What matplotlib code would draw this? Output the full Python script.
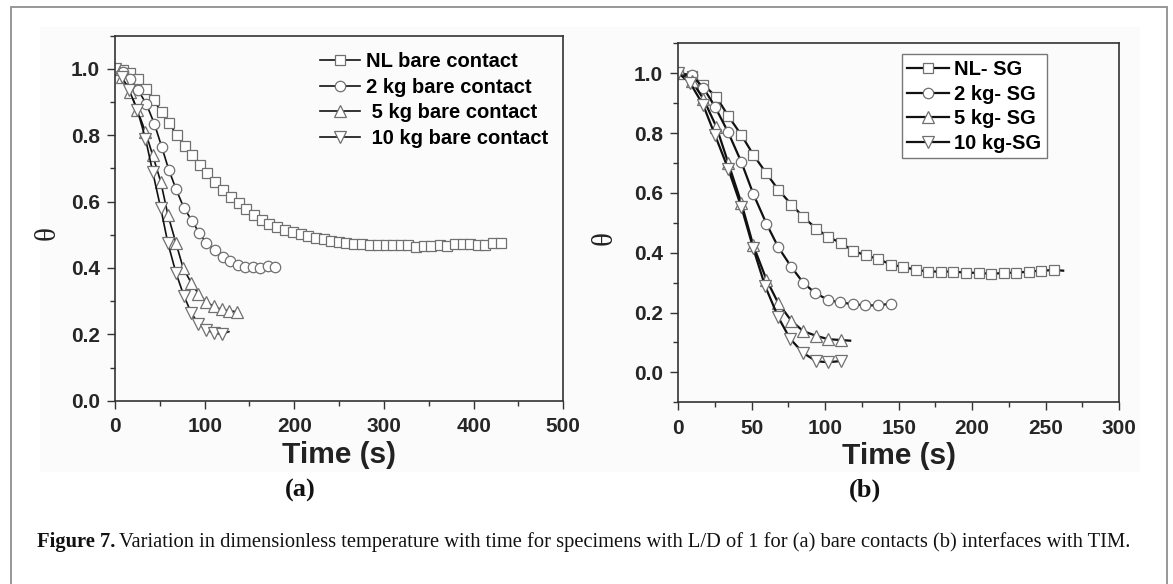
import matplotlib
matplotlib.use("Agg")
import matplotlib.pyplot as plt
from matplotlib.patches import Rectangle
from matplotlib.ticker import MultipleLocator

plt.rcParams['font.family'] = ['Liberation Sans', 'DejaVu Sans']

# ---- (a) bare contacts ----
t_nl_a = [0, 9, 17, 26, 35, 43, 52, 60, 69, 78, 86, 95, 103, 112, 121, 129, 138, 146, 155, 164,
          172, 181, 190, 198, 207, 215, 224, 233, 241, 250, 258, 267, 276, 284, 293, 302, 310, 319,
          327, 336, 345, 353, 362, 370, 379, 388, 396, 405, 413, 422, 430]
th_nl_a = [1.0, 0.997, 0.988, 0.968, 0.94, 0.905, 0.87, 0.838, 0.80, 0.768, 0.74, 0.71, 0.685, 0.66,
           0.635, 0.615, 0.595, 0.578, 0.56, 0.546, 0.533, 0.523, 0.515, 0.508, 0.502, 0.496, 0.49,
           0.486, 0.482, 0.478, 0.475, 0.473, 0.471, 0.47, 0.468, 0.468, 0.469, 0.469, 0.47, 0.462,
           0.466, 0.467, 0.468, 0.467, 0.472, 0.472, 0.471, 0.47, 0.47, 0.474, 0.475]
t_2_a = [0, 9, 17, 26, 35, 44, 52, 60, 68, 77, 86, 94, 102, 111, 120, 128, 137, 145, 154, 162, 171, 179]
th_2_a = [1.0, 0.99, 0.97, 0.935, 0.894, 0.834, 0.766, 0.696, 0.638, 0.58, 0.542, 0.505, 0.475,
          0.455, 0.433, 0.42, 0.41, 0.403, 0.403, 0.40, 0.405, 0.402]
t_5_a = [0, 8, 17, 25, 34, 42, 51, 59, 68, 76, 85, 93, 102, 110, 119, 127, 136]
th_5_a = [1.0, 0.975, 0.93, 0.875, 0.81, 0.74, 0.66, 0.56, 0.475, 0.40, 0.355, 0.322, 0.298,
          0.284, 0.275, 0.271, 0.268]
t_10_a = [0, 8, 16, 25, 34, 42, 51, 59, 68, 77, 85, 93, 102, 110, 119, 127]
th_10_a = [1.0, 0.975, 0.935, 0.875, 0.79, 0.69, 0.58, 0.475, 0.385, 0.315, 0.265, 0.232, 0.213,
           0.204, 0.2, 0.208]

# ---- (b) interfaces with TIM ----
t_nl_b = [0, 9, 17, 26, 34, 43, 51, 60, 68, 77, 85, 94, 102, 111, 119, 128, 136, 145, 153, 162,
          170, 179, 187, 196, 205, 213, 222, 230, 239, 247, 256, 262]
th_nl_b = [1.0, 0.99, 0.962, 0.92, 0.857, 0.793, 0.728, 0.665, 0.611, 0.561, 0.52, 0.48, 0.453,
           0.432, 0.406, 0.391, 0.379, 0.36, 0.352, 0.343, 0.337, 0.337, 0.337, 0.333, 0.333,
           0.329, 0.333, 0.333, 0.337, 0.34, 0.342, 0.34]
t_2_b = [0, 9, 17, 25, 34, 43, 51, 60, 68, 77, 85, 93, 102, 110, 119, 127, 136, 145]
th_2_b = [1.0, 0.994, 0.952, 0.888, 0.802, 0.702, 0.597, 0.497, 0.419, 0.352, 0.3, 0.266, 0.242,
          0.234, 0.228, 0.224, 0.224, 0.23]
t_5_b = [0, 9, 17, 26, 34, 43, 51, 60, 68, 77, 85, 94, 102, 111, 117]
th_5_b = [1.0, 0.975, 0.915, 0.82, 0.70, 0.565, 0.425, 0.31, 0.232, 0.172, 0.138, 0.122, 0.111,
          0.108, 0.106]
t_10_b = [0, 8, 17, 25, 34, 43, 51, 59, 68, 76, 85, 94, 102, 111]
th_10_b = [1.0, 0.968, 0.893, 0.793, 0.68, 0.552, 0.415, 0.29, 0.185, 0.113, 0.065, 0.037,
           0.034, 0.038]

labels_a = ["NL bare contact", "2 kg bare contact", " 5 kg bare contact", " 10 kg bare contact"]
labels_b = ["NL- SG", "2 kg- SG", "5 kg- SG", "10 kg-SG"]

W, H = 1173, 584
fig = plt.figure(figsize=(W / 100, H / 100), dpi=100)

# outer frame and faint plot background
fig.patches.append(Rectangle((40 / W, 1 - 472 / H), 1100 / W, 445 / H, transform=fig.transFigure,
                             facecolor='#fbfbfb', edgecolor='none', zorder=-10))
fig.patches.append(Rectangle((11 / W, -0.05), 1156 / W, 1.05 - 7 / H, transform=fig.transFigure,
                             facecolor='none', edgecolor='#8f8f8f', linewidth=1.3, zorder=-5))

ax1 = fig.add_axes([115 / W, 1 - 400.7 / H, 448.3 / W, 365 / H])
ax2 = fig.add_axes([678.3 / W, 1 - 402.3 / H, 440.7 / W, 359 / H])

markers = ['s', 'o', '^', 'v']
msizes = [7, 7.5, 8.5, 8.5]
mec = '#707070'
tick_font = {'family': 'Liberation Sans', 'weight': 'bold', 'size': 15}
leg_font = {'family': 'Liberation Sans', 'weight': 'bold', 'size': 14.5}


def draw_panel(ax, series, labels, unmarked_tail, lw, ylab_xy):
    for (t, th), m, ms, lab, tail in zip(series, markers, msizes, labels, unmarked_tail):
        n = len(t)
        ax.plot(t, th, color='#111111', linewidth=lw, marker=m, markersize=ms,
                markerfacecolor='white', markeredgecolor=mec, markeredgewidth=0.9,
                markevery=slice(0, n - 1) if tail else None, label=lab)
    ax.set_facecolor('none')
    for s in ax.spines.values():
        s.set_color('#333333')
        s.set_linewidth(1.2)
    ax.tick_params(which='both', direction='out', colors='#333333', width=1.0)
    ax.tick_params(which='major', length=6, pad=5)
    ax.tick_params(which='minor', length=3.5)
    ax.tick_params(axis='x', which='major', pad=6)
    for lbl in ax.get_xticklabels() + ax.get_yticklabels():
        lbl.set_fontproperties(tick_font)
        lbl.set_color('#262626')
    ax.set_xlabel('Time (s)', fontsize=21.5, fontweight='bold', color='#222222', labelpad=3)
    ax.set_ylabel('θ', fontsize=21, family='Liberation Serif', color='#222222')
    # place theta label in figure pixels
    ax.yaxis.set_label_coords(ylab_xy[0] / W, 1 - ylab_xy[1] / H, transform=fig.transFigure)


# panel (a)
ax1.set_xlim(0, 500)
ax1.set_ylim(0, 1.1)
ax1.xaxis.set_minor_locator(MultipleLocator(50))
ax1.yaxis.set_minor_locator(MultipleLocator(0.1))
ax1.set_xticks([0, 100, 200, 300, 400, 500])
ax1.set_yticks([0.0, 0.2, 0.4, 0.6, 0.8, 1.0])
ax1.set_yticklabels(['0.0', '0.2', '0.4', '0.6', '0.8', '1.0'])
draw_panel(ax1, [(t_nl_a, th_nl_a), (t_2_a, th_2_a), (t_5_a, th_5_a), (t_10_a, th_10_a)],
           labels_a, [False, False, False, True], 1.2, (61, 233))
leg1 = ax1.legend(loc='upper left', bbox_to_anchor=(320 / W, 1 - 52 / H), bbox_transform=fig.transFigure,
                  frameon=False, prop=leg_font,
                  handlelength=2.0, handletextpad=0.3, labelspacing=0.33, borderpad=0, borderaxespad=0)

# panel (b)
ax2.set_xlim(0, 300)
ax2.set_ylim(-0.1, 1.1)
ax2.xaxis.set_minor_locator(MultipleLocator(25))
ax2.yaxis.set_minor_locator(MultipleLocator(0.1))
ax2.set_xticks([0, 50, 100, 150, 200, 250, 300])
ax2.set_yticks([0.0, 0.2, 0.4, 0.6, 0.8, 1.0])
ax2.set_yticklabels(['0.0', '0.2', '0.4', '0.6', '0.8', '1.0'])
draw_panel(ax2, [(t_nl_b, th_nl_b), (t_2_b, th_2_b), (t_5_b, th_5_b), (t_10_b, th_10_b)],
           labels_b, [True, False, True, False], 1.6, (618, 238))
leg2 = ax2.legend(loc='upper left', bbox_to_anchor=(901.5 / W, 1 - 54.3 / H), bbox_transform=fig.transFigure,
                  frameon=True, fancybox=False, edgecolor='#777777', framealpha=1,
                  prop=leg_font, handlelength=2.1, handletextpad=0.25, labelspacing=0.28,
                  borderpad=0.28, borderaxespad=0)
leg2.get_frame().set_linewidth(1.0)

# panel letters and caption
fig.text(300 / W, 1 - 490 / H, '(a)', ha='center', va='center', fontsize=19, fontweight='bold',
         family='Liberation Serif', color='#111111')
fig.text(865 / W, 1 - 490 / H, '(b)', ha='center', va='center', fontsize=19, fontweight='bold',
         family='Liberation Serif', color='#111111')
cap1 = fig.text(37 / W, 1 - 542 / H, 'Figure 7.', ha='left', va='center', fontsize=14.8, fontweight='bold',
                family='Liberation Serif', color='#111111')
fig.canvas.draw()
bb = cap1.get_window_extent()
fig.text(bb.x1 / W + 4 / W, 1 - 542 / H,
         'Variation in dimensionless temperature with time for specimens with L/D of 1 for '
         '(a) bare contacts (b) interfaces with TIM.',
         ha='left', va='center', fontsize=14.8, family='Liberation Serif', color='#111111')

fig.savefig('out.png', dpi=100, facecolor='white')
